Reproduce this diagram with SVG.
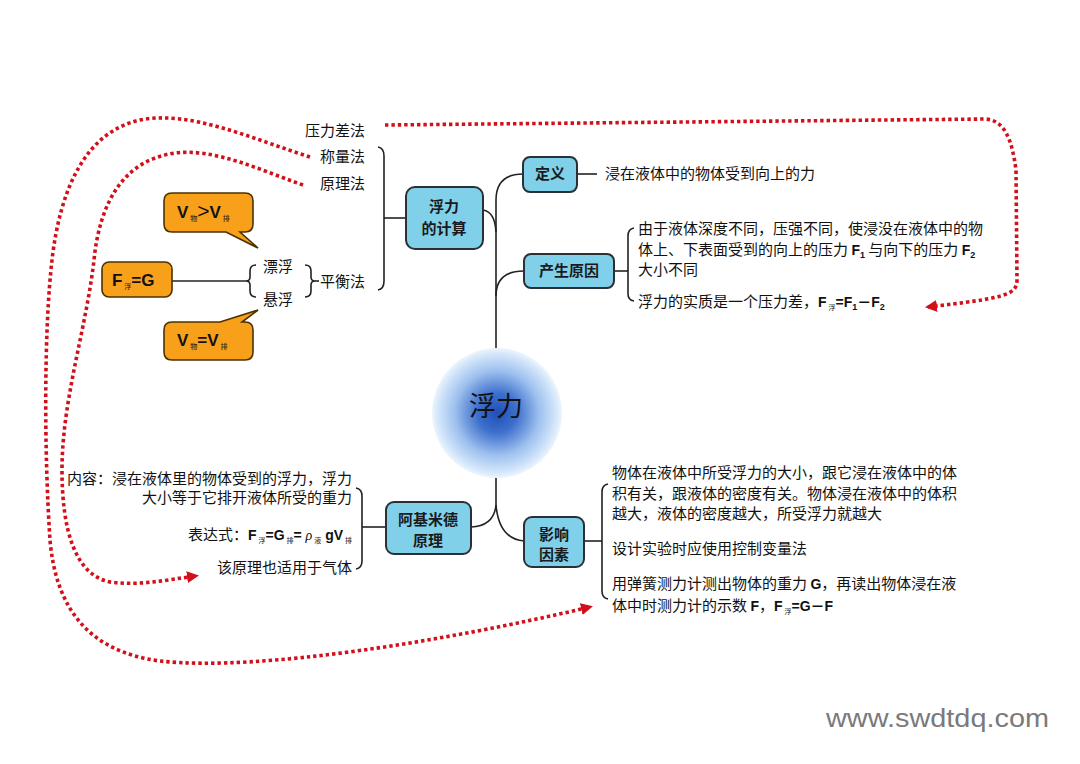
<svg xmlns="http://www.w3.org/2000/svg" width="1080" height="764" viewBox="0 0 1080 764">
<style>
.t{font-family:"Noto Sans CJK SC","Liberation Sans",sans-serif;font-size:15px;fill:#111}
.bx{font-family:"Noto Sans CJK SC","Liberation Sans",sans-serif;font-size:15px;font-weight:bold;fill:#1a1a1a;text-anchor:middle}
.f{font-family:"Liberation Sans","Noto Sans CJK SC",sans-serif;font-weight:bold;font-size:14px}
.s{font-size:7px;font-weight:normal}
.node{fill:#80d0ea;stroke:#2a3136;stroke-width:2}
.or{fill:#f8a01a;stroke:#4a3300;stroke-width:1.6}
.ln{fill:none;stroke:#222;stroke-width:1.6}
.dot{fill:none;stroke:#d2101a;stroke-width:3.6;stroke-dasharray:3.4 3}
.ot{font-family:"Liberation Sans","Noto Sans CJK SC",sans-serif;font-weight:bold;font-size:17px;fill:#111}
</style>
<defs>
<radialGradient id="sph" cx="0.5" cy="0.5" r="0.5">
<stop offset="0" stop-color="#1f4fb8"/>
<stop offset="0.3" stop-color="#3d6fcc"/>
<stop offset="0.65" stop-color="#9dc0ee"/>
<stop offset="0.92" stop-color="#d6e8fb"/>
<stop offset="1" stop-color="#eef5fd"/>
</radialGradient>
<marker id="ah" markerUnits="userSpaceOnUse" markerWidth="14" markerHeight="12" refX="9" refY="6" orient="auto">
<path d="M0,0 L12,6 L0,12 z" fill="#d2101a"/>
</marker>
</defs>
<rect width="1080" height="764" fill="#ffffff"/>

<g id="connectors">
<path class="ln" d="M523,174 Q496,174 496,200 L496,349"/>
<path class="ln" d="M524,271 Q496,271 496,296"/>
<path class="ln" d="M483,210 Q495,212 496,232"/>
<path class="ln" d="M496,477 L496,505 Q494,526 471,527"/>
<path class="ln" d="M496,505 Q499,539 524,541"/>
<path class="ln" d="M577,174 H597"/>
<path class="ln" d="M614,271 H628"/>
<path class="ln" d="M634,228 Q628,229 628,236 V294 Q628,300 634,301"/>
<path class="ln" d="M584,541 H602"/>
<path class="ln" d="M608,484 Q602,485 602,492 V591 Q602,598 608,599"/>
<path class="ln" d="M386,527 H362"/>
<path class="ln" d="M356,488 Q362,489 362,496 V561 Q362,568 356,569"/>
<path class="ln" d="M406,218 H384"/>
<path class="ln" d="M378,147 Q384,148 384,156 V281 Q384,289 378,290"/>
<path class="ln" d="M305,265 Q311,265 311,271 V277 Q311,281 315,281 Q311,281 311,285 V291 Q311,297 305,297"/>
<path class="ln" d="M315,281 H319"/>
<path class="ln" d="M256,265 Q250,265 250,271 V277 Q250,281 246,281 Q250,281 250,285 V291 Q250,297 256,297"/>
<path class="ln" d="M172,281 H246"/>
<path class="dot" marker-end="url(#ah)" d="M310,157 C250,138 190,110 140,120 C85,132 60,190 52,260 C44,330 44,450 50,540 C56,610 90,652 160,661 C260,672 450,640 590,607"/>
<path class="dot" marker-end="url(#ah)" d="M303,185 C260,170 215,148 175,153 C125,160 100,200 94,260 C86,330 62,400 62,470 C62,530 75,575 110,582 C140,586 165,580 196,576"/>
<path class="dot" marker-end="url(#ah)" d="M385,125 L985,119 C1005,120 1012,140 1016,170 L1017,280 C1017,295 1005,298 928,307"/>
</g>

<g id="center">
<circle cx="497" cy="413" r="65" fill="url(#sph)"/>
<text x="496" y="416" text-anchor="middle" style="font-family:'Noto Sans CJK SC',sans-serif;font-size:27px;fill:#111">浮力</text>
</g>

<g id="n-calc">
<rect class="node" x="406" y="187" width="77" height="62" rx="9"/>
<text class="bx" x="444" y="212">浮力</text>
<text class="bx" x="444" y="234">的计算</text>
</g>

<g id="n-def">
<rect class="node" x="523" y="157" width="54" height="35" rx="7"/>
<text class="bx" x="550" y="179">定义</text>
</g>
<g id="t-def"><text class="t" x="605" y="179">浸在液体中的物体受到向上的力</text></g>

<g id="n-cause">
<rect class="node" x="524" y="254" width="90" height="34" rx="7"/>
<text class="bx" x="569" y="276">产生原因</text>
</g>
<g id="t-cause">
<text class="t" x="638" y="234">由于液体深度不同，压强不同，使浸没在液体中的物</text>
<text class="t" x="638" y="255">体上、下表面受到的向上的压力 <tspan class="f">F<tspan font-size="9" dy="3">1</tspan></tspan><tspan dy="-3"> 与向下的压力 </tspan><tspan class="f">F<tspan font-size="9" dy="3">2</tspan></tspan></text>
<text class="t" x="638" y="275">大小不同</text>
<text class="t" x="638" y="307">浮力的实质是一个压力差，<tspan class="f">F<tspan class="s" dy="3"> 浮</tspan><tspan dy="-3">=F</tspan><tspan font-size="9" dy="3">1</tspan><tspan dy="-3">－F</tspan><tspan font-size="9" dy="3">2</tspan></tspan></text>
</g>

<g id="n-arch">
<rect class="node" x="386" y="502" width="85" height="52" rx="8"/>
<text class="bx" x="428" y="525">阿基米德</text>
<text class="bx" x="428" y="546">原理</text>
</g>
<g id="t-arch">
<text class="t" x="352" y="484" text-anchor="end">内容：浸在液体里的物体受到的浮力，浮力</text>
<text class="t" x="352" y="503" text-anchor="end">大小等于它排开液体所受的重力</text>
<text class="t" x="352" y="540" text-anchor="end">表达式：<tspan class="f">F<tspan class="s" dy="3"> 浮</tspan><tspan dy="-3">=G</tspan><tspan class="s" dy="3"> 排</tspan><tspan dy="-3">= </tspan><tspan font-family="Liberation Serif" font-weight="normal" font-style="italic">ρ</tspan><tspan class="s" dy="3"> 液</tspan><tspan dy="-3"> gV</tspan><tspan class="s" dy="3"> 排</tspan></tspan></text>
<text class="t" x="352" y="573" text-anchor="end">该原理也适用于气体</text>
</g>

<g id="n-factor">
<rect class="node" x="524" y="517" width="60" height="50" rx="8"/>
<text class="bx" x="554" y="540">影响</text>
<text class="bx" x="554" y="560">因素</text>
</g>
<g id="t-factor">
<text class="t" x="612" y="478">物体在液体中所受浮力的大小，跟它浸在液体中的体</text>
<text class="t" x="612" y="499">积有关，跟液体的密度有关。物体浸在液体中的体积</text>
<text class="t" x="612" y="519">越大，液体的密度越大，所受浮力就越大</text>
<text class="t" x="612" y="554">设计实验时应使用控制变量法</text>
<text class="t" x="612" y="589">用弹簧测力计测出物体的重力 <tspan class="f">G</tspan>，再读出物体浸在液</text>
<text class="t" x="612" y="611">体中时测力计的示数 <tspan class="f">F</tspan>，<tspan class="f">F<tspan class="s" dy="3"> 浮</tspan><tspan dy="-3">=G－F</tspan></tspan></text>
</g>

<g id="methods">
<text class="t" x="305" y="136">压力差法</text>
<text class="t" x="320" y="162">称量法</text>
<text class="t" x="320" y="189">原理法</text>
<text class="t" x="320" y="287">平衡法</text>
<text class="t" x="263" y="272">漂浮</text>
<text class="t" x="263" y="305">悬浮</text>
</g>

<g id="n-fg">
<rect class="or" x="102" y="262" width="70" height="35" rx="7"/>
<text class="ot" x="112" y="286">F<tspan class="s" dy="3"> 浮</tspan><tspan dy="-3">=G</tspan></text>
</g>

<g id="n-float">
<path class="or" d="M172,193 H245 Q253,193 253,201 V224 Q253,232 245,232 H240 L258,248 L226,232 H172 Q164,232 164,224 V201 Q164,193 172,193 Z"/>
<text class="ot" x="177" y="218">V<tspan class="s" dy="3"> 物</tspan><tspan dy="-3" font-weight="normal" font-size="21">&gt;</tspan>V<tspan class="s" dy="3"> 排</tspan></text>
</g>

<g id="n-susp">
<path class="or" d="M172,322 H220 L258,310 L242,322 H245 Q253,322 253,330 V352 Q253,360 245,360 H172 Q164,360 164,352 V330 Q164,322 172,322 Z"/>
<text class="ot" x="177" y="346">V<tspan class="s" dy="3"> 物</tspan><tspan dy="-3">=V</tspan><tspan class="s" dy="3"> 排</tspan></text>
</g>

<text x="826" y="727" textLength="223" lengthAdjust="spacingAndGlyphs" style="font-family:'Liberation Sans',sans-serif;font-size:26px;fill:#7a7a7a">www.swdtdq.com</text>
</svg>
